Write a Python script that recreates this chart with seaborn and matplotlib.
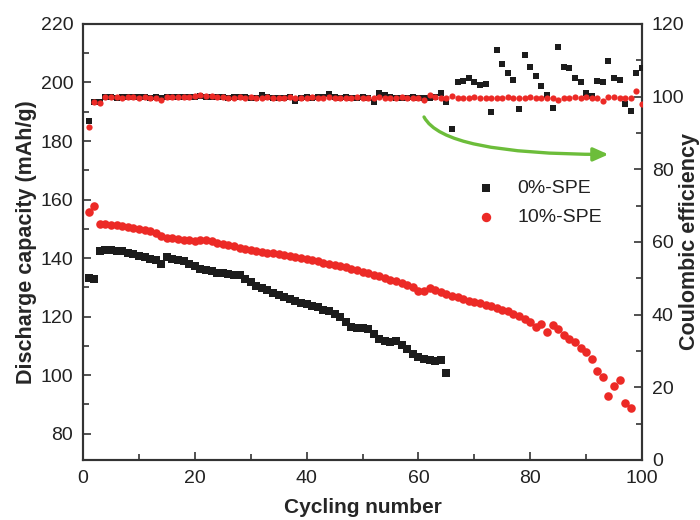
import matplotlib
matplotlib.use("Agg")
import matplotlib.pyplot as plt
from matplotlib.ticker import MultipleLocator
import seaborn as sns

# ---- data ----
cap_0_cycles = list(range(1, 66))
cap_0 = [133.2, 133.0, 142.3, 142.6, 142.7, 142.5, 142.3, 141.9, 141.5, 140.6,
         140.2, 139.8, 139.5, 138.1, 140.2, 139.8, 139.4, 139.0, 138.0, 137.2,
         136.4, 136.0, 135.5, 135.0, 134.8, 134.5, 134.3, 134.1, 133.0, 131.8,
         130.6, 129.8, 129.0, 128.2, 127.4, 126.7, 126.0, 125.4, 124.8, 124.2,
         123.5, 123.2, 122.4, 121.8, 121.0, 119.8, 118.0, 116.4, 116.2, 116.0,
         115.8, 114.2, 112.5, 111.8, 111.2, 111.6, 110.2, 108.8, 107.2, 106.2,
         105.6, 105.2, 104.8, 105.2, 100.7]

cap_10_cycles = list(range(1, 99))
cap_10 = [155.7, 157.7, 151.8, 151.6, 151.4, 151.2, 150.9, 150.6, 150.3, 150.0,
          149.6, 149.2, 148.4, 147.4, 147.0, 146.7, 146.5, 146.3, 146.2, 146.0,
          146.3, 146.1, 145.7, 145.2, 144.8, 144.4, 144.0, 143.6, 143.2, 142.7,
          142.4, 142.0, 141.8, 141.6, 141.3, 140.9, 140.6, 140.3, 140.0, 139.7,
          139.3, 138.9, 138.4, 138.0, 137.6, 137.2, 136.8, 136.3, 135.8, 135.3,
          134.8, 134.3, 133.8, 133.2, 132.6, 132.0, 131.4, 130.8, 130.2, 128.8,
          128.6, 129.8, 129.2, 128.4, 127.8, 127.2, 126.6, 126.0, 125.5, 125.0,
          124.6, 124.1, 123.5, 123.0, 122.4, 121.8, 121.0, 120.3, 119.2, 118.0,
          116.6, 117.5, 114.7, 117.0, 115.6, 113.8, 112.4, 111.2, 109.4, 107.8,
          105.4, 101.5, 99.2, 93.0, 96.3, 98.4, 90.6, 88.9]

ce_cycles = list(range(1, 101))
ce_0 = [93.2, 98.6, 98.6, 99.8, 99.8, 99.7, 99.8, 99.8, 99.9, 99.8,
        99.8, 99.7, 99.8, 99.6, 99.8, 99.9, 99.8, 100.0, 99.9, 99.8,
        100.1, 100.0, 99.9, 99.8, 99.8, 99.7, 99.8, 99.9, 99.8, 99.7,
        99.6, 100.4, 99.8, 99.7, 99.6, 99.7, 99.8, 98.8, 99.7, 99.8,
        99.7, 99.8, 99.9, 100.7, 99.8, 99.7, 99.9, 99.5, 99.7, 99.8,
        99.7, 98.6, 100.9, 100.4, 99.8, 99.7, 99.6, 99.7, 99.8, 99.6,
        99.5, 99.7, 99.8, 100.9, 98.6, 91.1, 103.9, 104.3, 105.2, 103.9,
        103.2, 103.4, 95.9, 112.8, 109.1, 106.4, 104.6, 96.5, 111.4, 108.2,
        105.7, 102.9, 100.4, 97.0, 113.7, 108.2, 108.0, 105.0, 104.1, 101.1,
        100.2, 104.3, 103.9, 109.8, 105.0, 104.6, 97.9, 96.0, 106.6, 107.8]
ce_10 = [91.7, 98.4, 98.2, 99.8, 99.8, 99.8, 99.7, 99.8, 99.8, 99.7,
         99.8, 99.7, 99.6, 99.0, 99.8, 99.9, 99.8, 99.9, 100.0, 100.2,
         100.4, 100.3, 100.1, 99.8, 99.8, 99.7, 99.6, 99.8, 99.7, 99.8,
         99.6, 99.7, 99.8, 99.7, 99.6, 99.7, 99.8, 99.7, 99.6, 99.7,
         99.8, 99.7, 99.6, 99.8, 99.7, 99.5, 99.6, 99.7, 99.8, 99.7,
         99.6, 99.7, 99.8, 99.7, 99.6, 99.7, 99.8, 99.7, 99.5, 99.6,
         99.2, 100.5, 99.8, 99.6, 99.7, 100.1, 99.7, 99.6, 99.7, 99.8,
         99.6, 99.7, 99.5, 99.6, 99.7, 99.8, 99.7, 99.6, 99.7, 99.8,
         99.7, 99.6, 99.7, 99.6, 99.0, 99.5, 99.7, 99.8, 99.7, 99.9,
         99.7, 99.5, 98.9, 99.8, 99.9, 99.7, 99.6, 99.5, 101.6, 98.1]

black = "#1c1c1c"
red = "#ec2a26"
green = "#6cbd3a"

sns.set_style("ticks")
plt.rcParams["font.family"] = ["Liberation Sans", "DejaVu Sans"]

fig = plt.figure(figsize=(7, 5.2), dpi=100)
ax = fig.add_axes([0.1186, 0.1154, 0.7986, 0.8385])
ax2 = ax.twinx()

# capacity (left axis)
sns.scatterplot(x=cap_0_cycles, y=cap_0, marker="s", s=30, color=black,
                linewidth=0, ax=ax, label="0%-SPE", zorder=3)
sns.scatterplot(x=cap_10_cycles, y=cap_10, marker="o", s=38, color=red,
                linewidth=0, ax=ax, label="10%-SPE", zorder=4)

# coulombic efficiency (right axis)
sns.scatterplot(x=ce_cycles, y=ce_0, marker="s", s=15, color=black,
                linewidth=0, ax=ax2, zorder=3)
sns.scatterplot(x=ce_cycles, y=ce_10, marker="o", s=20, color=red,
                linewidth=0, ax=ax2, zorder=4)

ax.set_xlim(0, 100)
ax.set_ylim(71, 220)
ax2.set_ylim(0, 120)

ax.xaxis.set_major_locator(MultipleLocator(20))
ax.xaxis.set_minor_locator(MultipleLocator(10))
ax.yaxis.set_minor_locator(MultipleLocator(10))
ax.set_yticks(range(80, 221, 20))
ax2.yaxis.set_major_locator(MultipleLocator(20))
ax2.yaxis.set_minor_locator(MultipleLocator(10))

for a in (ax, ax2):
    a.tick_params(which="both", direction="in", colors="#333333",
                  labelcolor="#222222", labelsize=14, width=1.2)
    a.tick_params(which="major", length=6, pad=7)
    a.tick_params(which="minor", length=4)
    for sp in a.spines.values():
        sp.set_visible(True)
        sp.set_color("#333333")
        sp.set_linewidth(1.5)

ax.set_xlabel("Cycling number", fontsize=15, fontweight="bold")
ax.set_ylabel("Discharge capacity (mAh/g)", fontsize=15.5, fontweight="bold")
ax2.set_ylabel("Coulombic efficiency", fontsize=15.5, fontweight="bold",
               rotation=90)
ax.xaxis.set_label_coords(0.5, -0.088)
ax.yaxis.set_label_coords(-0.082, 0.5)
ax2.yaxis.set_label_coords(1.066, 0.5)

# green arrow
ax2.annotate("", xy=(94.0, 84.1), xytext=(61.0, 94.4),
             arrowprops=dict(arrowstyle="-|>,head_length=0.9,head_width=0.4",
                             color=green, lw=2.4, shrinkA=0, shrinkB=0,
                             connectionstyle="angle3,angleA=-62,angleB=0"))

handles, labels = ax.get_legend_handles_labels()
ax.get_legend().remove()
leg = ax2.legend(handles, labels, loc="upper left", bbox_to_anchor=(0.655, 0.683),
                 frameon=False, fontsize=14, handletextpad=0.6,
                 labelspacing=0.55, markerscale=1.1)
for t in leg.get_texts():
    t.set_color("#222222")

fig.savefig("out.png", dpi=100)
